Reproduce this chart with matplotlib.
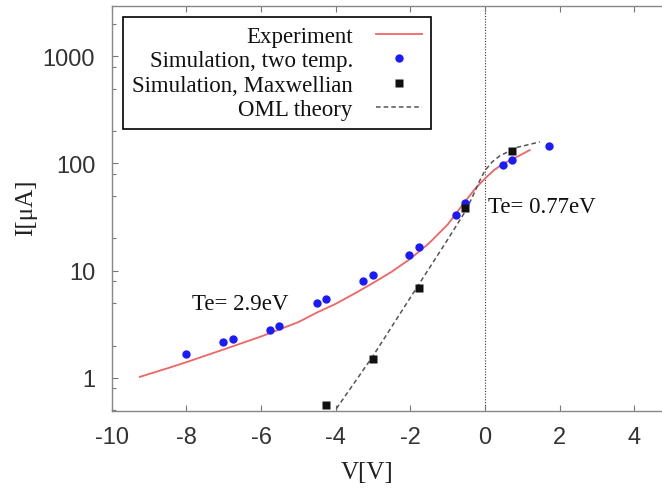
import matplotlib
matplotlib.use('Agg')
import matplotlib.pyplot as plt
from matplotlib.ticker import FixedLocator, FixedFormatter, NullFormatter

# experiment (red curve)
exp_v = [-9.25, -8.5, -8.0, -7.0, -6.0, -5.0, -4.5, -4.0, -3.5, -3.0, -2.5, -2.0, -1.5, -1.0,
         -0.5, -0.25, 0.0, 0.25, 0.5, 0.85, 1.2]
exp_i = [1.02, 1.23, 1.40, 1.84, 2.43, 3.31, 4.07, 4.90, 6.10, 7.67, 9.77, 12.9, 18.0, 26.9,
         45.7, 58.9, 72.4, 87.1, 100, 114.8, 133.4]

# simulation, two temperatures (blue dots)
two_v = [-8.0, -7.02, -6.76, -5.76, -5.51, -4.51, -4.26, -3.26, -3.01, -2.03, -1.78, -0.78, -0.53, 0.47, 0.72, 1.72]
two_i = [1.67, 2.15, 2.28, 2.82, 3.03, 5.0, 5.45, 7.96, 9.12, 14.1, 16.5, 33.0, 42.7, 97.3, 107.6, 146]

# simulation, Maxwellian (black squares)
max_v = [-4.26, -2.99, -1.77, -0.53, 0.72]
max_i = [0.56, 1.50, 6.9, 38.2, 131]

# OML theory (dashed)
oml_v = [-4.1, -3.0, -2.0, -1.0, -0.5, -0.3, -0.15, 0.0, 0.2, 0.4, 0.85, 1.47]
oml_i = [0.45, 1.6, 5.6, 19.5, 37, 52, 68, 86, 104, 118, 141, 159]

serif = 'Liberation Serif'
plt.rcParams['font.family'] = 'Liberation Sans'

fig = plt.figure(figsize=(6.62, 4.89), dpi=100)
ax = fig.add_axes([0.169, 0.1575, 0.831, 0.8282])

ax.axvline(0, color='#333333', lw=0.8, ls=(0, (1, 1.5)), zorder=1)
ax.plot(exp_v, exp_i, color='#f06464', lw=1.3, label='Experiment', zorder=2)
ax.plot(two_v, two_i, 'o', color='#1a1aff', ms=6, mec='none', label='Simulation, two temp.', zorder=4)
ax.plot(max_v, max_i, 's', color='#111111', ms=5.5, mec='none', label='Simulation, Maxwellian', zorder=5)
ax.plot(oml_v, oml_i, color='#555555', lw=1.1, ls=(0, (3, 2)), label='OML theory', zorder=3)

ax.set_yscale('log')
ax.set_xlim(-10, 4.745)
ax.set_ylim(0.49, 2950)

ax.set_xticks([-10, -8, -6, -4, -2, 0, 2, 4])
ax.set_xticklabels(['-10', '-8', '-6', '-4', '-2', '0', '2', '4'])
ax.yaxis.set_major_locator(FixedLocator([1, 10, 100, 1000]))
ax.yaxis.set_major_formatter(FixedFormatter(['1', '10', '100', '1000']))
minors = [m * 10.0 ** e for e in range(-1, 4) for m in (2, 5, 8)]
ax.yaxis.set_minor_locator(FixedLocator(minors))
ax.yaxis.set_minor_formatter(NullFormatter())

ax.tick_params(axis='both', which='major', direction='in', length=4.5, width=0.8,
               color='#777777', labelcolor='#333333', labelsize=17, top=True)
ax.tick_params(axis='both', which='minor', direction='in', length=3, width=0.8,
               color='#777777', top=False)
ax.tick_params(axis='y', which='major', pad=12)
ax.tick_params(axis='x', which='major', pad=10.5)
ax.xaxis.set_minor_locator(FixedLocator([]))

for s in ['left', 'top', 'bottom']:
    ax.spines[s].set_color('#888888')
    ax.spines[s].set_linewidth(1.0)
ax.spines['right'].set_visible(False)

ax.set_xlabel('V[V]', fontfamily=serif, fontsize=18, color='#222222')
ax.xaxis.set_label_coords(0.4636, -0.123)
ax.set_ylabel('I[μA]', fontfamily=serif, fontsize=18, color='#222222')
ax.yaxis.set_label_coords(-0.136, 0.504)

ax.text(-7.85, 4.4, 'Te= 2.9eV', fontfamily=serif, fontsize=16.5, color='#111111', va='baseline')
ax.text(0.08, 35.5, 'Te= 0.77eV', fontfamily=serif, fontsize=16.5, color='#111111', va='baseline')

leg = ax.legend(loc='upper left', bbox_to_anchor=(0.02, 0.973), borderaxespad=0,
                markerfirst=False, prop={'family': serif, 'size': 16.5},
                frameon=True, fancybox=False, framealpha=1, edgecolor='black',
                handlelength=2.0, handletextpad=1.0, labelspacing=0.14, borderpad=0.4)
leg.get_frame().set_linewidth(1.2)
for t in leg.get_texts():
    t.set_color('#111111')

fig.savefig('out.png', dpi=100)
